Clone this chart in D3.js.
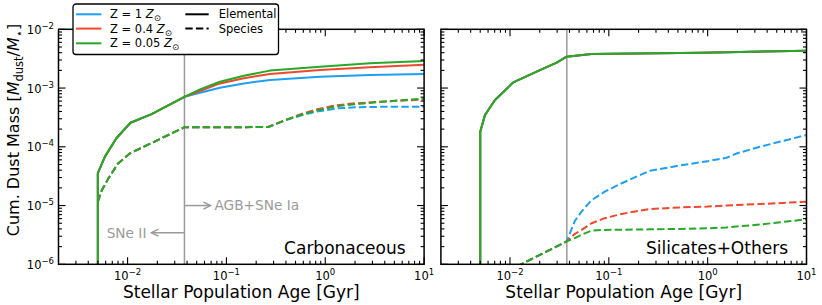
<!DOCTYPE html>
<html><head><meta charset="utf-8">
<script src="https://cdn.jsdelivr.net/npm/d3@7"></script>
<style>body{margin:0;background:#fff}svg{display:block;font-family:"DejaVu Sans",sans-serif}</style>
</head><body><svg id="c" width="822" height="305"></svg>
<script>
// ---------------- data ----------------
const seriesNames = ["Z = 1", "Z = 0.4", "Z = 0.05"];
const seriesColors = ["#1e9ff2", "#f0472e", "#26a926"];
const styleNames = ["Elemental", "Species"];
const panelNames = ["Carbonaceous", "Silicates+Others"];
const xTickExps = [-2, -1, 0, 1];
const yTickExps = [-6, -5, -4, -3, -2];
const vlineAge = 0.0376;
const annotAGB = "AGB+SNe Ia";
const annotSNe = "SNe II";

// Carbonaceous, elemental
const ageCarbElem = [0.005, 0.005, 0.0059, 0.0077, 0.0107, 0.0175, 0.0376, 0.054, 0.086, 0.15, 0.276, 0.885, 2.83, 10];
const carbElemZ1   = [1e-9, 3.55e-5, 6.8e-5, 1.4e-4, 2.57e-4, 3.6e-4, 7.1e-4, 8.3e-4, 1.01e-3, 1.2e-3, 1.37e-3, 1.56e-3, 1.67e-3, 1.74e-3];
const carbElemZ04  = [1e-9, 3.55e-5, 6.8e-5, 1.4e-4, 2.57e-4, 3.6e-4, 7.1e-4, 8.9e-4, 1.2e-3, 1.47e-3, 1.73e-3, 2.03e-3, 2.25e-3, 2.5e-3];
const carbElemZ005 = [1e-9, 3.55e-5, 6.8e-5, 1.4e-4, 2.57e-4, 3.6e-4, 7.1e-4, 9.5e-4, 1.28e-3, 1.62e-3, 1.98e-3, 2.31e-3, 2.64e-3, 2.9e-3];

// Carbonaceous, species
const ageCarbSpec = [0.005, 0.0055, 0.0064, 0.008, 0.0106, 0.0376, 0.1, 0.265, 0.4, 0.6, 0.8, 1.3, 2, 4, 10];
const carbSpecZ1   = [1.16e-5, 1.84e-5, 2.9e-5, 5.2e-5, 7.75e-5, 2.15e-4, 2.15e-4, 2.17e-4, 2.86e-4, 3.5e-4, 3.95e-4, 4.5e-4, 4.7e-4, 4.8e-4, 4.8e-4];
const carbSpecZ04  = [1.16e-5, 1.84e-5, 2.9e-5, 5.2e-5, 7.75e-5, 2.15e-4, 2.15e-4, 2.17e-4, 2.9e-4, 3.7e-4, 4.3e-4, 5.1e-4, 5.5e-4, 5.9e-4, 6.4e-4];
const carbSpecZ005 = [1.16e-5, 1.84e-5, 2.9e-5, 5.2e-5, 7.75e-5, 2.15e-4, 2.15e-4, 2.17e-4, 2.86e-4, 3.6e-4, 4.1e-4, 4.9e-4, 5.3e-4, 5.9e-4, 6.6e-4];

// Silicates+Others, elemental
const ageSilElem = [0.005, 0.005, 0.00558, 0.00705, 0.0108, 0.0186, 0.0297, 0.0374, 0.0665, 0.876, 10];
const silElemZ1   = [1e-9, 1.81e-4, 3.46e-4, 6.27e-4, 1.25e-3, 1.9e-3, 2.7e-3, 3.42e-3, 3.8e-3, 4.0e-3, 4.33e-3];
const silElemZ04  = [1e-9, 1.81e-4, 3.46e-4, 6.27e-4, 1.25e-3, 1.9e-3, 2.7e-3, 3.42e-3, 3.8e-3, 4.0e-3, 4.33e-3];
const silElemZ005 = [1e-9, 1.81e-4, 3.46e-4, 6.27e-4, 1.25e-3, 1.9e-3, 2.7e-3, 3.42e-3, 3.8e-3, 4.0e-3, 4.33e-3];

// Silicates+Others, species
const ageSilSpec = [0.005, 0.0107, 0.0374, 0.0454, 0.053, 0.067, 0.091, 0.135, 0.19, 0.26, 0.52, 1.0, 1.55, 1.96, 3.37, 10];
const silSpecZ1   = [4e-7, 8.5e-7, 2.45e-6, 5.5e-6, 7.9e-6, 1.24e-5, 1.72e-5, 2.4e-5, 3.1e-5, 3.9e-5, 4.8e-5, 5.7e-5, 6.5e-5, 7.7e-5, 1.0e-4, 1.59e-4];
const silSpecZ04  = [4e-7, 8.5e-7, 2.45e-6, 3.3e-6, 3.85e-6, 5.0e-6, 6.1e-6, 7.2e-6, 8.0e-6, 8.7e-6, 9.3e-6, 9.6e-6, 1.0e-5, 1.02e-5, 1.06e-5, 1.16e-5];
const silSpecZ005 = [4e-7, 8.5e-7, 2.45e-6, 2.8e-6, 3.2e-6, 3.75e-6, 3.85e-6, 3.88e-6, 3.9e-6, 3.94e-6, 4.0e-6, 4.1e-6, 4.25e-6, 4.4e-6, 4.75e-6, 5.83e-6];

// ---------------- build ----------------
const panels = [
  {name: panelNames[0], x0: 58.5, x1: 424.1,
   elem: {age: ageCarbElem, vals: [carbElemZ1, carbElemZ04, carbElemZ005]},
   spec: {age: ageCarbSpec, vals: [carbSpecZ1, carbSpecZ04, carbSpecZ005]}, yLabels: true},
  {name: panelNames[1], x0: 440.9, x1: 806.5,
   elem: {age: ageSilElem, vals: [silElemZ1, silElemZ04, silElemZ005]},
   spec: {age: ageSilSpec, vals: [silSpecZ1, silSpecZ04, silSpecZ005]}, yLabels: false}
];
const yTop = 29.3, yBot = 264.3;
const svg = d3.select("#c");
const y = d3.scaleLog().domain([1e-6, 1e-2]).range([yBot, yTop]);
const gray = "#9a9a9a";

function supText(sel, exp, base, sup) {
  sel.append("tspan").attr("font-size", base).text("10");
  sel.append("tspan").attr("font-size", sup).attr("dy", -base*0.42)
    .text(exp < 0 ? "\u2212" + (-exp) : String(exp));
}

function minorVals(lo, hi) {
  const out = [];
  for (let e = -7; e <= 2; e++) for (let m = 2; m <= 9; m++) {
    const v = m * Math.pow(10, e);
    if (v > lo * 1.0001 && v < hi * 0.9999) out.push(v);
  }
  return out;
}

panels.forEach((p, pi) => {
  const x = d3.scaleLog().domain([0.002, 10]).range([p.x0, p.x1]);
  const g = svg.append("g");
  const cid = "clip" + pi;
  svg.append("clipPath").attr("id", cid).append("rect")
    .attr("x", p.x0).attr("y", yTop).attr("width", p.x1 - p.x0).attr("height", yBot - yTop);

  // vertical line
  g.append("line").attr("x1", x(vlineAge)).attr("x2", x(vlineAge))
    .attr("y1", yTop).attr("y2", yBot).attr("stroke", gray).attr("stroke-width", 1.5);

  // data lines
  const line = d3.line().x(d => x(d[0])).y(d => y(d[1]));
  const lg = g.append("g").attr("clip-path", `url(#${cid})`);
  [0, 1, 2].forEach(i => {
    lg.append("path").attr("d", line(p.elem.age.map((a, k) => [a, p.elem.vals[i][k]])))
      .attr("fill", "none").attr("stroke", seriesColors[i]).attr("stroke-width", 2)
      .attr("stroke-linejoin", "round");
  });
  [0, 1, 2].forEach(i => {
    lg.append("path").attr("d", line(p.spec.age.map((a, k) => [a, p.spec.vals[i][k]])))
      .attr("fill", "none").attr("stroke", seriesColors[i]).attr("stroke-width", 2)
      .attr("stroke-dasharray", "7.4,3.2").attr("stroke-linejoin", "round");
  });

  // ticks (inward, all four sides)
  const xMaj = xTickExps.map(e => Math.pow(10, e));
  const xMin = minorVals(0.002, 10);
  const yMaj = yTickExps.map(e => Math.pow(10, e));
  const yMin = minorVals(1e-6, 1e-2);
  const tk = g.append("g").attr("stroke", "#000").attr("stroke-width", 1.1);
  xMaj.forEach(v => {
    tk.append("line").attr("x1", x(v)).attr("x2", x(v)).attr("y1", yBot).attr("y2", yBot - 7);
    tk.append("line").attr("x1", x(v)).attr("x2", x(v)).attr("y1", yTop).attr("y2", yTop + 7);
  });
  xMin.forEach(v => {
    tk.append("line").attr("x1", x(v)).attr("x2", x(v)).attr("y1", yBot).attr("y2", yBot - 3.5);
    tk.append("line").attr("x1", x(v)).attr("x2", x(v)).attr("y1", yTop).attr("y2", yTop + 3.5);
  });
  yMaj.forEach(v => {
    tk.append("line").attr("x1", p.x0).attr("x2", p.x0 + 7).attr("y1", y(v)).attr("y2", y(v));
    tk.append("line").attr("x1", p.x1).attr("x2", p.x1 - 7).attr("y1", y(v)).attr("y2", y(v));
  });
  yMin.forEach(v => {
    tk.append("line").attr("x1", p.x0).attr("x2", p.x0 + 3.5).attr("y1", y(v)).attr("y2", y(v));
    tk.append("line").attr("x1", p.x1).attr("x2", p.x1 - 3.5).attr("y1", y(v)).attr("y2", y(v));
  });

  // frame
  g.append("rect").attr("x", p.x0).attr("y", yTop).attr("width", p.x1 - p.x0).attr("height", yBot - yTop)
    .attr("fill", "none").attr("stroke", "#000").attr("stroke-width", 1.5);

  // x tick labels
  xTickExps.forEach(e => {
    const t = g.append("text").attr("x", x(Math.pow(10, e))).attr("y", 280).attr("text-anchor", "middle");
    supText(t, e, 11.5, 8.5);
  });
  // y tick labels
  if (p.yLabels) {
    yTickExps.forEach(e => {
      const t = g.append("text").attr("x", 54).attr("y", y(Math.pow(10, e)) + 4.5).attr("text-anchor", "end");
      supText(t, e, 11.5, 8.5);
    });
  }
  // x axis label
  g.append("text").attr("x", (p.x0 + p.x1) / 2).attr("y", 298).attr("text-anchor", "middle")
    .attr("font-size", 17).text("Stellar Population Age [Gyr]");
  // panel label
  g.append("text").attr("x", p.x1 - 18.5).attr("y", 254).attr("text-anchor", "end")
    .attr("font-size", 17).text(p.name);

  if (pi === 0) {
    const xv = x(vlineAge);
    const arrow = (x1, x2, yy) => {
      const dir = Math.sign(x2 - x1);
      g.append("line").attr("x1", x1).attr("x2", x2).attr("y1", yy).attr("y2", yy)
        .attr("stroke", gray).attr("stroke-width", 1.5);
      g.append("path").attr("d", `M${x2 - dir * 7},${yy - 3.5}L${x2},${yy}L${x2 - dir * 7},${yy + 3.5}`)
        .attr("fill", "none").attr("stroke", gray).attr("stroke-width", 1.5);
    };
    const yA = y(1e-5), yS = y(3.45e-6);
    arrow(xv, xv + 26, yA);
    g.append("text").attr("x", xv + 30).attr("y", yA + 4.8).attr("font-size", 13.7)
      .attr("fill", gray).text(annotAGB);
    arrow(xv, xv - 33, yS);
    g.append("text").attr("x", xv - 38).attr("y", yS + 4.8).attr("font-size", 13.7)
      .attr("text-anchor", "end").attr("fill", gray).text(annotSNe);
  }
});

// y axis label
const yl = svg.append("text").attr("transform", "translate(19,130) rotate(-90)")
  .attr("text-anchor", "middle").attr("font-size", 16);
yl.append("tspan").text("Cum. Dust Mass [");
yl.append("tspan").attr("font-style", "italic").text("M");
yl.append("tspan").attr("font-size", 11.5).attr("dy", 3.5).text("dust");
yl.append("tspan").attr("dy", -3.5).text("/");
yl.append("tspan").attr("font-style", "italic").text("M");
yl.append("tspan").attr("font-size", 11.5).attr("dy", 3.5).text("\u22C6");
yl.append("tspan").attr("dy", -3.5).text("]");

// legend
const lgd = svg.append("g");
lgd.append("rect").attr("x", 73).attr("y", 4).attr("width", 205.5).attr("height", 50.5)
  .attr("rx", 3).attr("fill", "#fff").attr("stroke", "#000").attr("stroke-width", 1.3);
const rowY = [14.3, 28.6, 43.3];
seriesNames.forEach((n, i) => {
  lgd.append("line").attr("x1", 76).attr("x2", 101.3).attr("y1", rowY[i]).attr("y2", rowY[i])
    .attr("stroke", seriesColors[i]).attr("stroke-width", 2);
  const t = lgd.append("text").attr("x", 110).attr("y", rowY[i] + 4).attr("font-size", 11.5);
  t.append("tspan").text(n + " ");
  t.append("tspan").attr("font-style", "italic").text("Z");
  t.append("tspan").attr("font-size", 8.5).attr("dy", 3).text("\u2299");
});
styleNames.forEach((n, i) => {
  lgd.append("line").attr("x1", 185.3).attr("x2", 208.7).attr("y1", rowY[i]).attr("y2", rowY[i])
    .attr("stroke", "#000").attr("stroke-width", 2)
    .attr("stroke-dasharray", i === 1 ? "7.4,3.2" : null);
  lgd.append("text").attr("x", 218.7).attr("y", rowY[i] + 4).attr("font-size", 11.5).text(n);
});
</script></body></html>
